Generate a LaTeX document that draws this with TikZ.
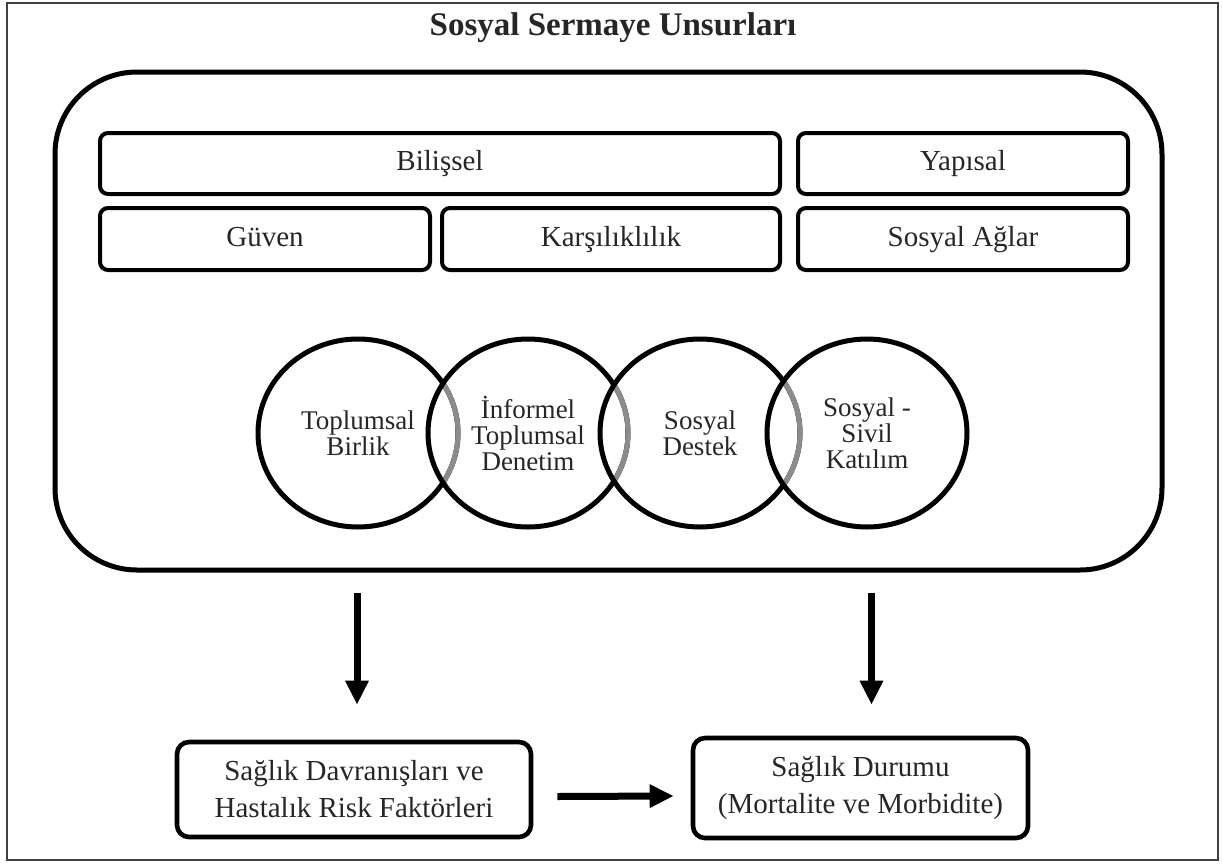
\documentclass[tikz,border=0pt]{standalone}
\usepackage{fontspec}
\setmainfont{Liberation Serif}
\usepackage{tikz}
\usetikzlibrary{shapes.geometric}
\usetikzlibrary{arrows.meta}

\tikzset{
  kutu/.style={draw, line width=2pt, rounded corners=4pt, text=black!85,
    font=\fontsize{14.5}{16}\selectfont, inner sep=0pt, text height=10pt, text depth=3pt},
  daire/.style={ellipse, draw, line width=2.5pt, minimum width=100pt,
    minimum height=94pt, inner sep=0pt, align=center, text=black!85,
    font=\fontsize{13.5}{13}\selectfont},
  sonuc/.style={draw, line width=2.3pt, rounded corners=6pt, align=center,
    text=black!85, font=\fontsize{14.5}{18.5}\selectfont, inner sep=0pt},
  ok/.style={line width=3.5pt, -{Triangle[length=12pt,width=11pt]}}
}

\begin{document}
\begin{tikzpicture}[x=0.5pt,y=-0.5pt]
  \useasboundingbox (0,0) rectangle (1223,864);
  \draw[line width=0.75pt, black!75] (7,3) rectangle (1218,860);

  \node[font=\fontsize{16.5}{18}\selectfont\bfseries, text=black!85] (baslik) at (613,28) {Sosyal Sermaye Unsurları};

  % buyuk kutu
  \node[draw, line width=2.5pt, rounded corners=41pt, minimum width=553.5pt,
    minimum height=249pt] (unsur) at (608.5,321) {};

  \node[kutu, minimum width=340pt, minimum height=30.5pt] (bilissel) at (440,163.5) {Bilişsel};
  \node[kutu, minimum width=165pt, minimum height=30.5pt] (yapisal) at (963,163.5) {Yapısal};
  \node[kutu, minimum width=165pt, minimum height=31pt] (guven) at (265,239) {Güven};
  \node[kutu, minimum width=169pt, minimum height=31pt] (karsilik) at (611,239) {Karşılıklılık};
  \node[kutu, minimum width=165pt, minimum height=31pt] (aglar) at (963,239) {Sosyal Ağlar};

  % daireler
  \node[daire] (birlik) at (358,433) {Toplumsal\\Birlik};
  \node[daire] (denetim) at (528,433) {İnformel\\Toplumsal\\Denetim};
  \node[daire] (destek) at (700,433) {Sosyal\\Destek};
  \node[daire] (katilim) at (867,433) {Sosyal -\\Sivil\\Katılım};

  \foreach \a/\b in {birlik/denetim,denetim/destek,destek/katilim}{
    \begin{scope}
      \clip (\b.center) ellipse [x radius=48.7pt, y radius=45.7pt];
      \draw[line width=2.5pt, black!45] (\a.center) ellipse [x radius=50pt, y radius=47pt];
    \end{scope}
  }

  % alt kutular
  \node[sonuc, minimum width=177pt, minimum height=47.5pt] (davranis) at (354,789.5)
    {Sağlık Davranışları ve\\Hastalık Risk Faktörleri};
  \node[sonuc, minimum width=167.5pt, minimum height=50pt] (durum) at (860.5,788)
    {Sağlık Durumu\\(Mortalite ve Morbidite)};

  \draw[ok] ([xshift=1.5pt,yshift=-10pt]unsur.south -| davranis.north) -- ([xshift=1.5pt,yshift=17.5pt]davranis.north);
  \draw[ok] ([xshift=5.5pt,yshift=-10pt]unsur.south -| durum.north) -- ([xshift=5.5pt,yshift=15.5pt]durum.north);
  \draw[ok] ([xshift=12pt,yshift=-3.5pt]davranis.east) -- ([xshift=-8.5pt,yshift=-4pt]durum.west);
\end{tikzpicture}
\end{document}
